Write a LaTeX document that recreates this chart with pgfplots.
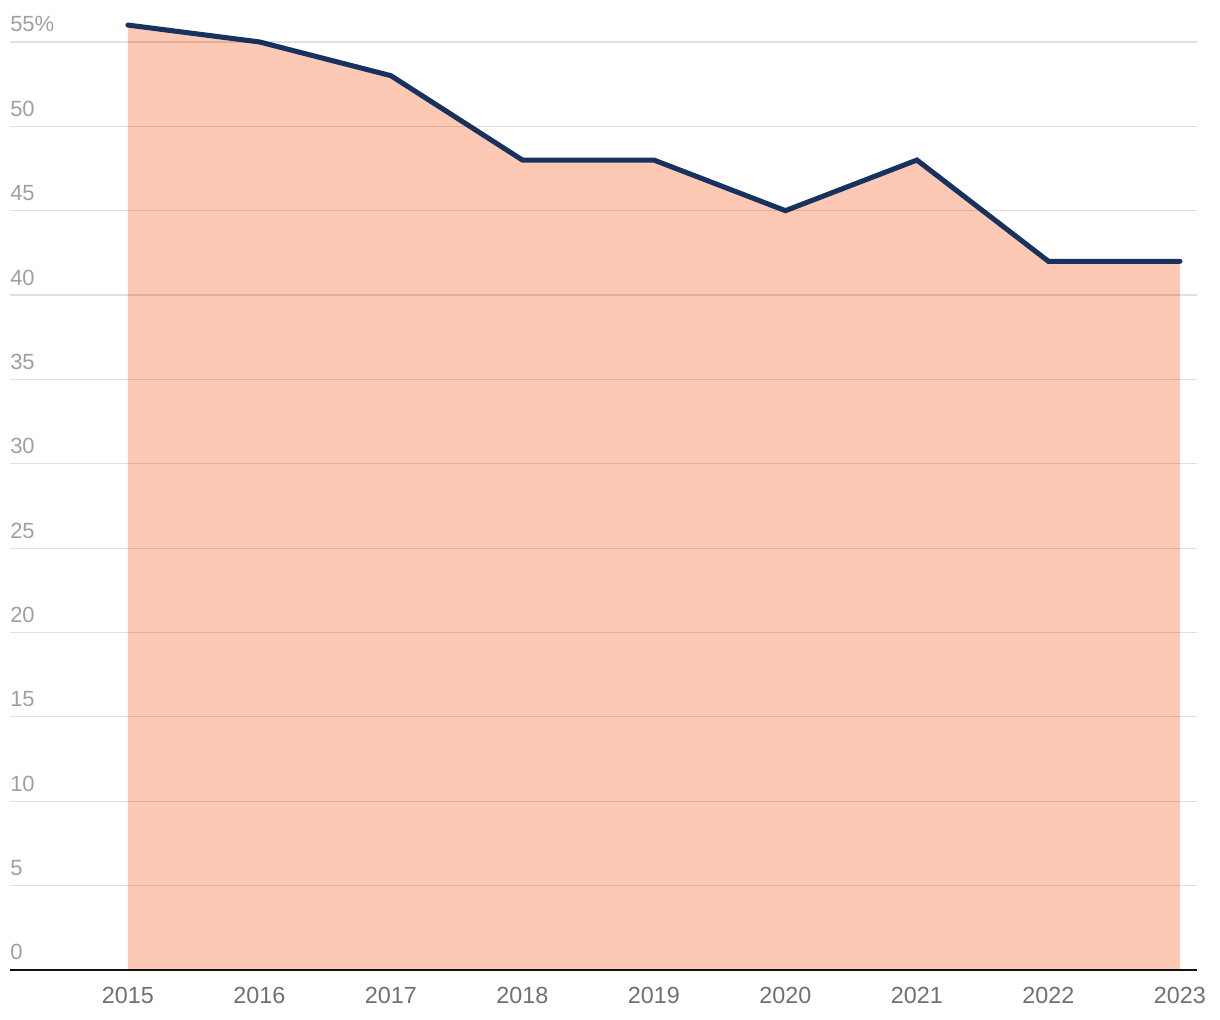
\documentclass[border=0pt]{standalone}
\usepackage{pgfplots}
\pgfplotsset{compat=1.18}
\usepackage{fontspec}
\setmainfont{Liberation Sans}

\definecolor{navy}{HTML}{17325F}
\definecolor{salmon}{HTML}{FEC9B4}
\definecolor{ylab}{HTML}{A0A0A0}
\definecolor{xlab}{HTML}{707070}

\begin{document}
\begin{tikzpicture}
% picture is 1220 x 1020 px, 1px = 0.75pt
\useasboundingbox (0pt,0pt) rectangle (915pt,765pt);
\begin{axis}[
    at={(7.5pt,37.5pt)}, anchor=south west,
    scale only axis,
    width=890.25pt, height=721.35pt,
    xmin=2014.103, xmax=2023.13,
    ymin=0, ymax=57,
    axis x line=bottom, axis y line=left,
    x axis line style={black!93, line width=1.5pt, -},
    y axis line style={draw=none},
    xtick={2015,...,2023},
    /pgf/number format/assume math mode=true,
    xticklabel style={/pgf/number format/1000 sep={}, font=\fontsize{17.5}{20}\selectfont, text=xlab, yshift=-9pt},
    major tick length=0pt,
    ytick={0,5,...,55},
    yticklabels={},
    ymajorgrids=true,
    grid style={black, opacity=0.12, line width=0.9pt},
    axis on top,
    clip=false,
]
\addplot[draw=none, fill=salmon] coordinates {
    (2015,56) (2016,55) (2017,53) (2018,48) (2019,48)
    (2020,45) (2021,48) (2022,42) (2023,42)
} \closedcycle;
\addplot[navy, line width=3.8pt, line join=miter, line cap=round] coordinates {
    (2015,56) (2016,55) (2017,53) (2018,48) (2019,48)
    (2020,45) (2021,48) (2022,42) (2023,42)
};
% y labels sit above their gridlines at the left edge
\foreach \v in {0,5,...,50} {
    \edef\tmp{\noexpand\node[anchor=base west, inner sep=0pt, text=ylab, font=\noexpand\fontsize{16.5}{20}\noexpand\selectfont]
        at (axis cs:2014.103,\v) [yshift=7.5pt] {\v};}
    \tmp
}
\node[anchor=base west, inner sep=0pt, text=ylab, font=\fontsize{16.5}{20}\selectfont]
    at (axis cs:2014.103,55) [yshift=7.5pt] {55\%};
\end{axis}
\end{tikzpicture}
\end{document}
